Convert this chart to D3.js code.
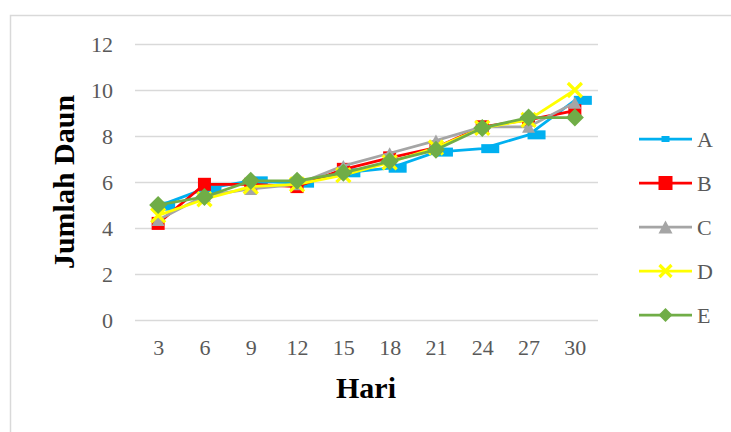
<!DOCTYPE html>
<html>
<head>
<meta charset="utf-8">
<script src="https://cdn.jsdelivr.net/npm/d3@7"></script>
<style>
  html, body { margin: 0; padding: 0; background: #fff; }
  svg { display: block; }
  text { font-family: "Liberation Serif", "Times New Roman", serif; }
</style>
</head>
<body>
<svg id="chart" width="731" height="432"></svg>
<script>
// Leaf count per day of observation for five treatments
const days = [3, 6, 9, 12, 15, 18, 21, 24, 27, 30];
const yTicks = [0, 2, 4, 6, 8, 10, 12];
const seriesNames = ["A", "B", "C", "D", "E"];
const valuesA = [4.95, 5.7, 6.05, 5.95, 6.4, 6.6, 7.3, 7.45, 8.05, 9.55];
const valuesB = [4.2, 5.9, 5.9, 5.8, 6.55, 7.05, 7.5, 8.4, 8.7, 9.1];
const valuesC = [4.35, 5.4, 5.7, 5.9, 6.7, 7.25, 7.8, 8.4, 8.4, 9.45];
const valuesD = [4.55, 5.25, 5.8, 5.9, 6.3, 6.85, 7.5, 8.35, 8.7, 10.0];
const valuesE = [5.0, 5.35, 6.05, 6.05, 6.4, 6.9, 7.4, 8.35, 8.8, 8.8];

const series = [
  { name: "A", values: valuesA, color: "#00b0f0", marker: "wideRect" },
  { name: "B", values: valuesB, color: "#ff0000", marker: "square" },
  { name: "C", values: valuesC, color: "#a5a5a5", marker: "triangle" },
  { name: "D", values: valuesD, color: "#ffff00", marker: "cross" },
  { name: "E", values: valuesE, color: "#70ad47", marker: "diamond" }
];

const svg = d3.select("#chart");
const textColor = "#595959";
const gridColor = "#d9d9d9";
const serif = "'Liberation Serif', 'Times New Roman', serif";

// outer chart frame
svg.append("rect")
  .attr("x", 10.5).attr("y", 15.5)
  .attr("width", 800).attr("height", 500)
  .attr("fill", "none").attr("stroke", gridColor).attr("stroke-width", 1.5);

const plot = { left: 135, right: 598, top: 44, bottom: 320 };

const x = d3.scalePoint().domain(days).range([plot.left, plot.right]).padding(0.5);
const y = d3.scaleLinear().domain([0, 12]).range([plot.bottom, plot.top]);

// horizontal gridlines + y labels
const yAxis = d3.axisLeft(y).tickValues(yTicks)
  .tickSize(-(plot.right - plot.left)).tickPadding(22);
const gy = svg.append("g").attr("transform", `translate(${plot.left},0)`).call(yAxis);
gy.attr("font-family", serif);
gy.select(".domain").remove();
gy.selectAll(".tick line").attr("stroke", gridColor).attr("stroke-width", 1.5);
gy.selectAll(".tick text")
  .attr("fill", textColor).attr("font-size", 22);

// x labels
const xAxis = d3.axisBottom(x).tickSize(0).tickPadding(19);
const gx = svg.append("g").attr("transform", `translate(0,${plot.bottom})`).call(xAxis);
gx.attr("font-family", serif);
gx.select(".domain").remove();
gx.selectAll(".tick text")
  .attr("fill", textColor).attr("font-size", 22);

// marker shapes
function drawMarker(g, kind, color, cx, cy, legend) {
  if (kind === "wideRect") {
    if (legend) {
      g.append("rect").attr("x", cx - 4).attr("y", cy - 3).attr("width", 8).attr("height", 6).attr("fill", color);
    } else {
      g.append("rect").attr("x", cx - 1).attr("y", cy - 4.5).attr("width", 18).attr("height", 9).attr("fill", color);
    }
  } else if (kind === "square") {
    const s = legend ? 14 : 13;
    g.append("rect").attr("x", cx - s / 2).attr("y", cy - s / 2).attr("width", s).attr("height", s).attr("fill", color);
  } else if (kind === "triangle") {
    const w = legend ? 14 : 13, h = legend ? 13 : 12;
    g.append("path")
      .attr("d", `M${cx},${cy - h / 2}L${cx + w / 2},${cy + h / 2}L${cx - w / 2},${cy + h / 2}Z`)
      .attr("fill", color);
  } else if (kind === "cross") {
    const r = legend ? 6 : 7;
    g.append("path")
      .attr("d", `M${cx - r},${cy - r}L${cx + r},${cy + r}M${cx - r},${cy + r}L${cx + r},${cy - r}`)
      .attr("stroke", color).attr("stroke-width", 3.2).attr("fill", "none");
  } else if (kind === "diamond") {
    const r = legend ? 7 : 9;
    g.append("path")
      .attr("d", `M${cx},${cy - r}L${cx + r},${cy}L${cx},${cy + r}L${cx - r},${cy}Z`)
      .attr("fill", color);
  }
}

const line = d3.line().x((d, i) => x(days[i])).y(d => y(d));

series.forEach(s => {
  const g = svg.append("g").attr("class", "series-" + s.name);
  g.append("path").datum(s.values)
    .attr("d", line).attr("fill", "none")
    .attr("stroke", s.color).attr("stroke-width", 2.75)
    .attr("stroke-linejoin", "round");
  s.values.forEach((v, i) => drawMarker(g, s.marker, s.color, x(days[i]), y(v), false));
});

// legend
const legendTop = 139, legendStep = 44;
series.forEach((s, i) => {
  const ly = legendTop + i * legendStep;
  const g = svg.append("g").attr("class", "legend-" + s.name);
  g.append("line").attr("x1", 639).attr("x2", 692).attr("y1", ly).attr("y2", ly)
    .attr("stroke", s.color).attr("stroke-width", 2.75);
  drawMarker(g, s.marker, s.color, 665.5, ly, true);
  g.append("text").attr("x", 697).attr("y", ly + 7.5)
    .attr("fill", textColor).attr("font-size", 22).text(s.name);
});

// axis titles
svg.append("text")
  .attr("x", 366).attr("y", 398).attr("text-anchor", "middle")
  .attr("font-size", 30).attr("font-weight", "bold").attr("fill", "#000")
  .text("Hari");
svg.append("text")
  .attr("transform", "translate(74,182) rotate(-90)").attr("text-anchor", "middle")
  .attr("font-size", 30).attr("font-weight", "bold").attr("fill", "#000")
  .text("Jumlah Daun");
</script>
</body>
</html>
